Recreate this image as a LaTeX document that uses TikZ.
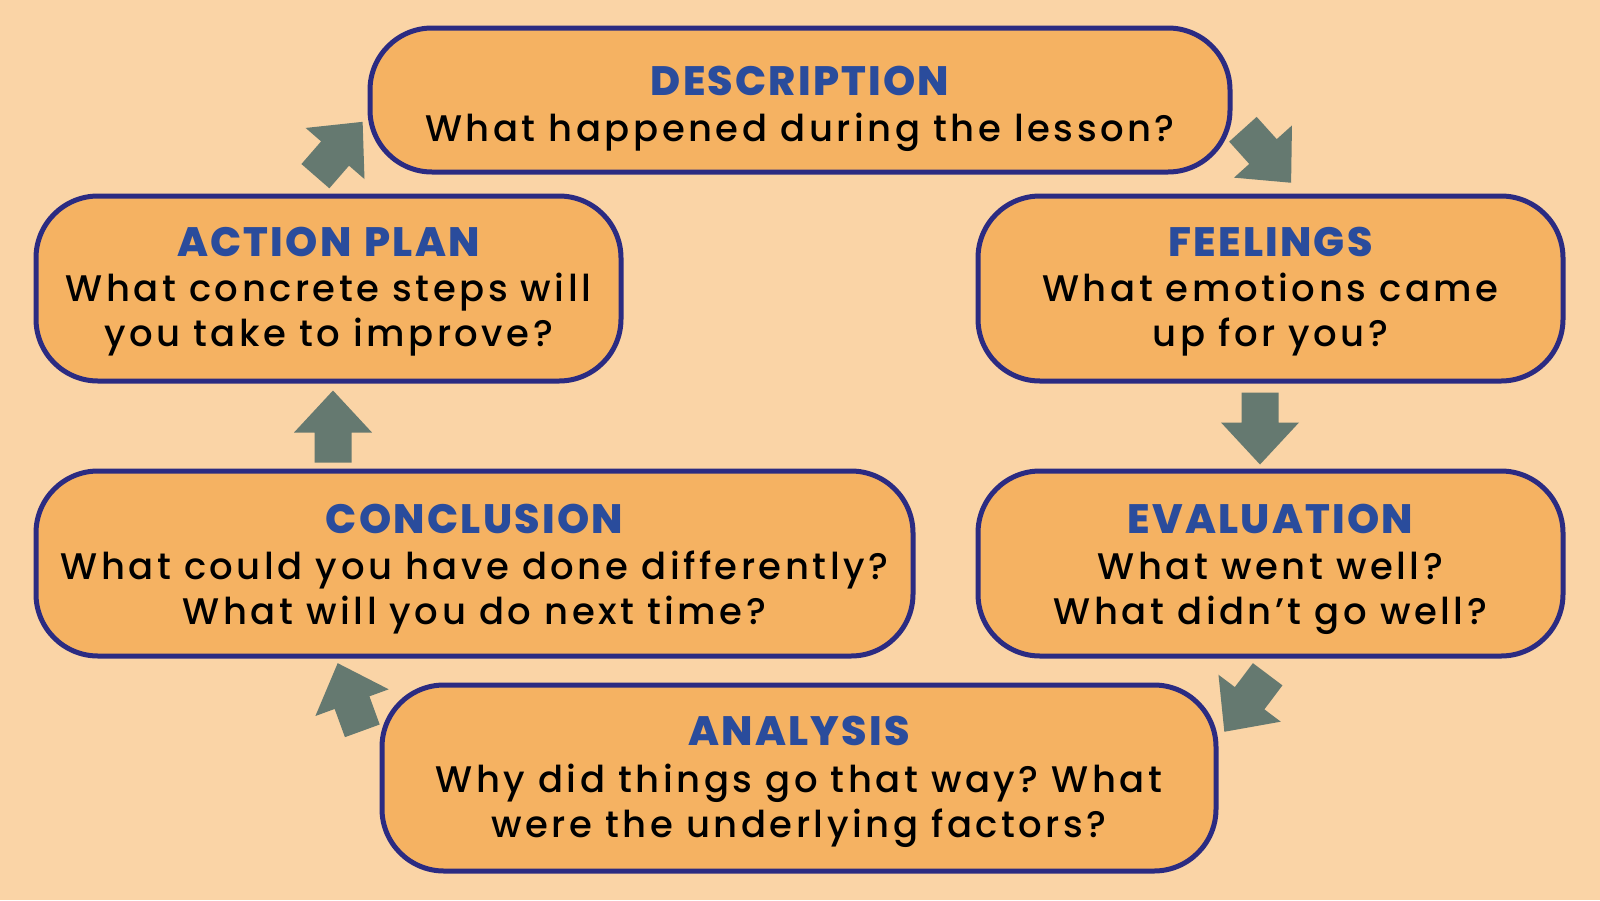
\documentclass[tikz,border=0pt]{standalone}
\usepackage{fontspec}
\setmainfont{Poppins}
\newfontfamily\ttlfont{Poppins ExtraBold}[LetterSpace=5.5, WordSpace=1.3]
\newfontfamily\bdyfont{Poppins Medium}[LetterSpace=9.5]
\definecolor{bgc}{HTML}{FAD4A6}
\definecolor{boxc}{HTML}{F5B262}
\definecolor{edgec}{HTML}{2B2B82}
\definecolor{ttlc}{HTML}{2A4C9C}
\definecolor{arrc}{HTML}{657970}
\tikzset{
  box/.style={draw=edgec, fill=boxc, line width=5pt, rounded corners=62pt, inner sep=0pt},
  ttl/.style={anchor=base, text=ttlc, font=\ttlfont\fontsize{41}{45}\selectfont, inner sep=0pt},
  bdy/.style={anchor=base, text=black, font=\bdyfont\fontsize{37}{45}\selectfont, inner sep=0pt},
  barrow/.style={fill=arrc, draw=none}
}
\newcommand\blockarrow[3]{%
  \fill[barrow, shift={(#1,#2)}, rotate=#3]
    (-36,-18.5) -- (-6,-18.5) -- (-6,-39) -- (36,0) -- (-6,39) -- (-6,18.5) -- (-36,18.5) -- cycle;}
\begin{document}
\frenchspacing
\begin{tikzpicture}[x=1pt,y=-1pt]
\fill[bgc] (0,0) rectangle (1600,900);
\useasboundingbox (0,0) rectangle (1600,900);
% boxes
\node[box, minimum width=860pt, minimum height=144pt] (desc) at (800,100) {};
\node[box, minimum width=585pt, minimum height=185pt] (act) at (328.5,288.5) {};
\node[box, minimum width=585pt, minimum height=185pt] (feel) at (1270.5,288.5) {};
\node[box, minimum width=877pt, minimum height=185pt] (conc) at (474.5,563.5) {};
\node[box, minimum width=585pt, minimum height=185pt] (eval) at (1270.5,563.5) {};
\node[box, minimum width=834pt, minimum height=186pt] (anal) at (799,778) {};
% texts
\node[ttl] (descT) at (800,95) {DESCRIPTION};
\node[bdy] (descB) at (800,141) {What happened during the lesson?};
\node[ttl] (actT) at (328.5,256) {ACTION PLAN};
\node[bdy] (actB1) at (328.5,301) {What concrete steps will};
\node[bdy] (actB2) at (328.5,346) {you take to improve?};
\node[ttl] (feelT) at (1270.5,256) {FEELINGS};
\node[bdy] (feelB1) at (1270.5,301) {What emotions came};
\node[bdy] (feelB2) at (1270.5,346) {up for you?};
\node[ttl] (concT) at (474.5,533) {CONCLUSION};
\node[bdy] (concB1) at (474.5,579) {What could you have done differently?};
\node[bdy] (concB2) at (474.5,624) {What will you do next time?};
\node[ttl] (evalT) at (1270.5,533) {EVALUATION};
\node[bdy] (evalB1) at (1270.5,579) {What went well?};
\node[bdy] (evalB2) at (1270.5,624) {What didn’t go well?};
\node[ttl] (analT) at (799,745) {ANALYSIS};
\node[bdy] (analB1) at (799,792) {Why did things go that way? What};
\node[bdy] (analB2) at (799,837) {were the underlying factors?};
% arrows
\blockarrow{339}{149}{49}
\blockarrow{1267}{156}{-48}
\blockarrow{1260}{428.5}{-90}
\blockarrow{333}{426.5}{90}
\blockarrow{1246}{703}{-127}
\blockarrow{350}{697}{110}
\end{tikzpicture}
\end{document}
